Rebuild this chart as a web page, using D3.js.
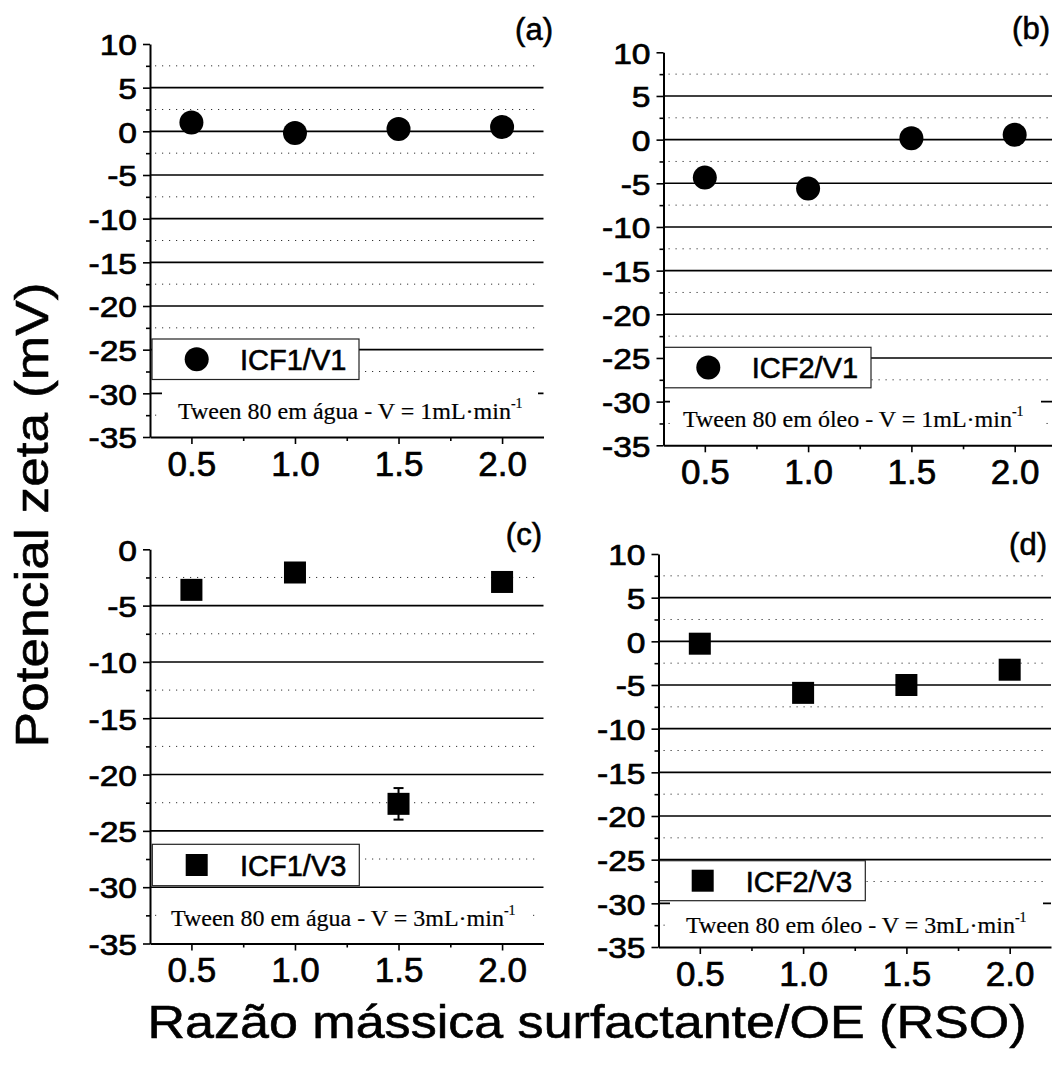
<!DOCTYPE html>
<html><head><meta charset="utf-8">
<script src="https://cdn.jsdelivr.net/npm/d3@7"></script>
<style>
html,body{margin:0;padding:0;background:#fff;}
svg{display:block;}
</style></head>
<body>
<svg id="chart" width="1052" height="1073"></svg>
<script>
// ---- data ----
const xValues = [0.5, 1.0, 1.5, 2.0];
const xTickLabels = ["0.5", "1.0", "1.5", "2.0"];
const xMinorTicks = [0.75, 1.25, 1.75];
const yTicksFull = [10, 5, 0, -5, -10, -15, -20, -25, -30, -35];
const yTicksC = [0, -5, -10, -15, -20, -25, -30, -35];
const seriesA = [1.0, -0.2, 0.27, 0.5];
const seriesB = [-4.35, -5.6, 0.15, 0.57];
const seriesC = [-3.6, -2.06, -22.6, -2.9];
const errorC = [0, 0, 1.4, 0];
const seriesD = [-0.27, -5.9, -5.0, -3.25];
const seriesNames = ["ICF1/V1", "ICF2/V1", "ICF1/V3", "ICF2/V3"];
const panelLabels = ["(a)", "(b)", "(c)", "(d)"];
const notes = ["Tween 80 em água - V = 1mL·min", "Tween 80 em óleo - V = 1mL·min",
               "Tween 80 em água - V = 3mL·min", "Tween 80 em óleo - V = 3mL·min"];
const yTitle = "Potencial zeta (mV)";
const xTitle = "Razão mássica surfactante/OE (RSO)";

const SANS = "'Liberation Sans', Arial, sans-serif";
const SERIF = "'Liberation Serif', 'Times New Roman', serif";

const svg = d3.select("#chart");

const panels = [
  {values: seriesA, err: null, ticks: yTicksFull, shape: "circle",
   left: 150, right: 543.5, top: 44, bottom: 437,
   legend: {x: 152, y: 339, w: 207, h: 40.5, mx: 196.7, tx: 240, ty: 370},
   note: {rx: 162, ry: 389, rw: 376, rh: 46, tx: 178, ty: 419},
   label: {x: 553, y: 40}},
  {values: seriesB, err: null, ticks: yTicksFull, shape: "circle",
   left: 663.5, right: 1056, top: 52.3, bottom: 445.3,
   legend: {x: 664, y: 347.3, w: 207, h: 40.5, mx: 708.3, tx: 751.7, ty: 378.3},
   note: {rx: 670, ry: 397, rw: 371, rh: 46, tx: 683, ty: 427.3},
   label: {x: 1050, y: 39}},
  {values: seriesC, err: errorC, ticks: yTicksC, shape: "square",
   left: 150, right: 543.5, top: 549.3, bottom: 943.5,
   legend: {x: 152.3, y: 844.3, w: 207, h: 41.4, mx: 196.7, tx: 240, ty: 876},
   note: {rx: 160, ry: 891, rw: 372, rh: 50, tx: 171, ty: 925.7},
   label: {x: 542, y: 545}},
  {values: seriesD, err: null, ticks: yTicksFull, shape: "square",
   left: 658.5, right: 1051, top: 554, bottom: 947,
   legend: {x: 659, y: 860.7, w: 206.3, h: 40, mx: 702.7, tx: 745.7, ty: 891.7},
   note: {rx: 670, ry: 902, rw: 373, rh: 43, tx: 686, ty: 933.3},
   label: {x: 1047, y: 555}}
];

function stretch(sel, k) {
  sel.each(function () {
    const w = this.getComputedTextLength();
    d3.select(this).attr("textLength", w * k).attr("lengthAdjust", "spacingAndGlyphs");
  });
}

function drawMarker(g, shape, cx, cy) {
  if (shape === "circle") {
    g.append("circle").attr("cx", cx).attr("cy", cy).attr("r", 12).attr("fill", "#000");
  } else {
    const s = 22;
    g.append("rect").attr("x", cx - s / 2).attr("y", cy - s / 2)
      .attr("width", s).attr("height", s).attr("fill", "#000");
  }
}

panels.forEach((p, i) => {
  const g = svg.append("g");
  const x = d3.scaleLinear().domain([0.3, 2.2]).range([p.left, p.right]);
  const yMax = d3.max(p.ticks), yMin = d3.min(p.ticks);
  const y = d3.scaleLinear().domain([yMin, yMax]).range([p.bottom, p.top]);

  // grid lines
  const majors = p.ticks.filter(v => v !== yMax && v !== yMin);
  const minors = d3.range(yMax - 2.5, yMin, -5);
  g.selectAll(".gmaj").data(majors).enter().append("line")
    .attr("x1", p.left).attr("x2", p.right)
    .attr("y1", d => y(d)).attr("y2", d => y(d))
    .attr("stroke", "#000").attr("stroke-width", 1.6);
  g.selectAll(".gmin").data(minors).enter().append("line")
    .attr("x1", p.left + 5).attr("x2", p.right - 4)
    .attr("y1", d => y(d)).attr("y2", d => y(d))
    .attr("stroke", "#333").attr("stroke-width", 1)
    .attr("stroke-dasharray", "1.2,5.8");

  // annotation (white box, serif text)
  g.append("rect").attr("x", p.note.rx).attr("y", p.note.ry)
    .attr("width", p.note.rw).attr("height", p.note.rh).attr("fill", "#fff");
  const nt = g.append("text").attr("x", p.note.tx).attr("y", p.note.ty)
    .attr("font-family", SERIF).attr("font-size", 24).attr("fill", "#000")
    .attr("stroke", "#000").attr("stroke-width", 0.2);
  nt.append("tspan").text(notes[i]);
  nt.append("tspan").attr("dy", -11).attr("font-size", 14).text("-1");

  // legend
  g.append("rect").attr("x", p.legend.x).attr("y", p.legend.y)
    .attr("width", p.legend.w).attr("height", p.legend.h)
    .attr("fill", "#fff").attr("stroke", "#222").attr("stroke-width", 1.2);
  drawMarker(g, p.shape, p.legend.mx, p.legend.y + p.legend.h / 2);
  g.append("text").attr("x", p.legend.tx).attr("y", p.legend.ty)
    .attr("font-family", SANS).attr("font-size", 29).attr("fill", "#000")
    .attr("stroke", "#000").attr("stroke-width", 0.6)
    .text(seriesNames[i]);

  // error bars
  if (p.err) {
    xValues.forEach((xv, j) => {
      const e = p.err[j];
      if (!e) return;
      const cx = x(xv);
      g.append("line").attr("x1", cx).attr("x2", cx)
        .attr("y1", y(p.values[j] + e)).attr("y2", y(p.values[j] - e))
        .attr("stroke", "#000").attr("stroke-width", 2);
      [p.values[j] + e, p.values[j] - e].forEach(v => {
        g.append("line").attr("x1", cx - 5).attr("x2", cx + 5)
          .attr("y1", y(v)).attr("y2", y(v))
          .attr("stroke", "#000").attr("stroke-width", 2);
      });
    });
  }

  // points
  xValues.forEach((xv, j) => drawMarker(g, p.shape, x(xv), y(p.values[j])));

  // axes
  const yAxis = g.append("g").attr("transform", `translate(${p.left},0)`)
    .call(d3.axisLeft(y).tickValues(p.ticks).tickSize(7).tickSizeOuter(0).tickPadding(6)
      .tickFormat(d => String(d)));
  const yMinor = g.append("g").attr("transform", `translate(${p.left},0)`)
    .call(d3.axisLeft(y).tickValues(minors).tickSize(4).tickSizeOuter(0).tickFormat(""));
  yMinor.select(".domain").remove();
  yAxis.select(".domain").attr("stroke", "#000").attr("stroke-width", 2);
  yAxis.selectAll(".tick line").attr("stroke", "#000").attr("stroke-width", 1.6);
  yMinor.selectAll(".tick line").attr("stroke", "#000").attr("stroke-width", 1.6);
  const yl = yAxis.selectAll(".tick text")
    .attr("font-family", SANS).attr("font-size", 30).attr("fill", "#000")
    .attr("stroke", "#000").attr("stroke-width", 0.7)
    .attr("dy", "0.36em");
  stretch(yl, 1.12);

  const xAxis = g.append("g").attr("transform", `translate(0,${p.bottom})`)
    .call(d3.axisBottom(x).tickValues(xValues).tickSize(7).tickSizeOuter(0).tickPadding(7)
      .tickFormat((d, k) => xTickLabels[k]));
  const xMinor = g.append("g").attr("transform", `translate(0,${p.bottom})`)
    .call(d3.axisBottom(x).tickValues(xMinorTicks).tickSize(4).tickSizeOuter(0).tickFormat(""));
  xMinor.select(".domain").remove();
  xAxis.select(".domain").attr("stroke", "#000").attr("stroke-width", 2);
  xAxis.selectAll(".tick line").attr("stroke", "#000").attr("stroke-width", 1.6);
  xMinor.selectAll(".tick line").attr("stroke", "#000").attr("stroke-width", 1.6);
  xAxis.selectAll(".tick text")
    .attr("font-family", SANS).attr("font-size", 35).attr("fill", "#000")
    .attr("stroke", "#000").attr("stroke-width", 0.7);

  // panel label
  g.append("text").attr("x", p.label.x).attr("y", p.label.y)
    .attr("text-anchor", "end").attr("font-family", SANS).attr("font-size", 31)
    .attr("fill", "#000").attr("stroke", "#000").attr("stroke-width", 0.6)
    .text(panelLabels[i]);
});

// axis titles
svg.append("text").attr("transform", "translate(48,515) rotate(-90)")
  .attr("text-anchor", "middle").attr("font-family", SANS).attr("font-size", 46)
  .attr("textLength", 465).attr("lengthAdjust", "spacingAndGlyphs")
  .attr("fill", "#000").attr("stroke", "#000").attr("stroke-width", 0.6).text(yTitle);
svg.append("text").attr("x", 587).attr("y", 1038)
  .attr("text-anchor", "middle").attr("font-family", SANS).attr("font-size", 46)
  .attr("textLength", 879).attr("lengthAdjust", "spacingAndGlyphs")
  .attr("fill", "#000").attr("stroke", "#000").attr("stroke-width", 0.6).text(xTitle);
</script>
</body></html>
